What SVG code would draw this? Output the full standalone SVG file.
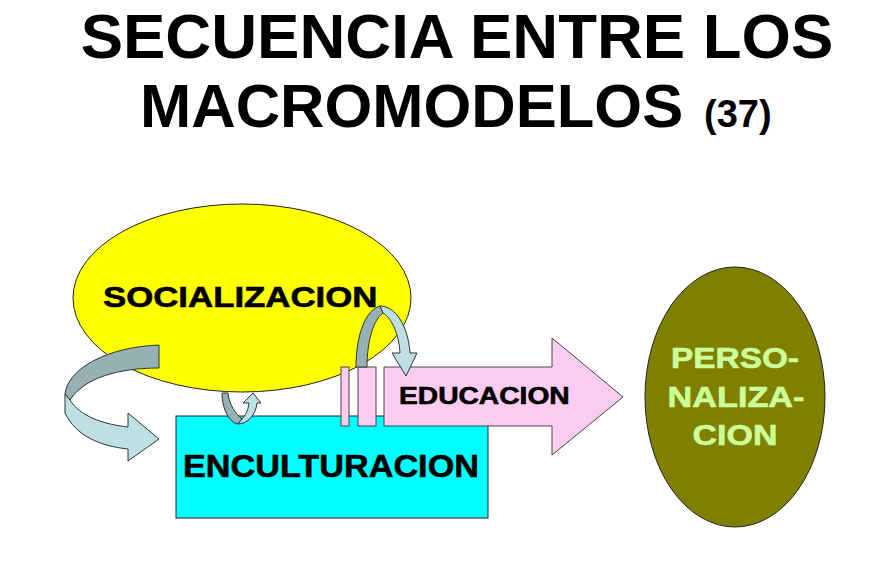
<svg xmlns="http://www.w3.org/2000/svg" width="892" height="561" viewBox="0 0 892 561">
<style>
.t{font-family:"Liberation Sans",Arial,sans-serif;font-weight:bold;}
.lbl{font-family:"Liberation Sans",Arial,sans-serif;font-weight:bold;fill:#000;stroke:#000;stroke-width:0.6;}
.pl{fill:#CCFF99;stroke:#CCFF99;}
.dark{fill:#96B1B4;stroke:#333;stroke-width:1;}
.light{fill:#BCE0E4;stroke:#333;stroke-width:1;}
.pink{fill:#FACCF0;stroke:#444;stroke-width:1;}
</style>
<rect width="892" height="561" fill="#fff"/>
<g id="title" class="t" fill="#000">
<text x="457" y="58" font-size="63.5" text-anchor="middle">SECUENCIA ENTRE LOS</text>
<text x="140" y="127" font-size="61.5">MACROMODELOS</text>
<text x="704" y="127" font-size="38">(37)</text>
</g>
<g id="socializacion">
<ellipse cx="242" cy="298" rx="169" ry="94" fill="#FFFF00" stroke="#222" stroke-width="1"/>
<text class="lbl" transform="translate(103,307) scale(1.2,1)" font-size="29">SOCIALIZACION</text>
</g>
<g id="enculturacion">
<rect x="176" y="416" width="312" height="102" fill="#00FFFF" stroke="#222" stroke-width="1"/>
<text class="lbl" transform="translate(183,477) scale(1.07,1)" font-size="32">ENCULTURACION</text>
</g>
<g id="educacion">
<rect class="pink" x="341" y="367" width="8" height="59"/>
<rect class="pink" x="358" y="367" width="18" height="59"/>
<path class="pink" d="M384,367 L552,367 L552,338 L623,397 L552,455 L552,426 L384,426 Z"/>
<text class="lbl" transform="translate(399,404) scale(1.2,1)" font-size="23.5">EDUCACION</text>
</g>
<g id="personalizacion">
<ellipse cx="735" cy="397" rx="90" ry="130" fill="#808000" stroke="#222" stroke-width="1"/>
<g font-size="29" text-anchor="middle">
<text class="lbl pl" transform="translate(735,368) scale(1.15,1)">PERSO-</text>
<text class="lbl pl" transform="translate(736,407) scale(1.18,1)">NALIZA-</text>
<text class="lbl pl" transform="translate(735,445) scale(1.17,1)">CION</text>
</g>
</g>
<g id="connectors">
<path class="dark" d="M159,345 L159,368 C118,368 84,378 70,400 L65,394 C68,368 108,347 159,345 Z"/>
<path class="light" d="M65,394 L65,413 C76,436 100,446 128,449 L128,461 L159,439 L128,413 L128,427 C102,424 80,416 70,400 Z"/>
<path class="dark" d="M222,393 C222,410 230,423 238,424 L242,419 C236,414 229,405 228,393 Z"/>
<path class="light" d="M238,424 C247,424 256,415 257,403 L261,403 L253,393 L243,403 L249,403 C248,411 245,416 242,419 Z"/>
<path class="dark" d="M356,367 C356,334 366,310 380,306 L383,313 C374,319 367,340 367,367 Z"/>
<path class="light" d="M380,306 C395,306 408,325 410,353 L417,353 L406,376 L392,353 L400,353 C399,335 392,318 383,313 Z"/>
</g>
</svg>
